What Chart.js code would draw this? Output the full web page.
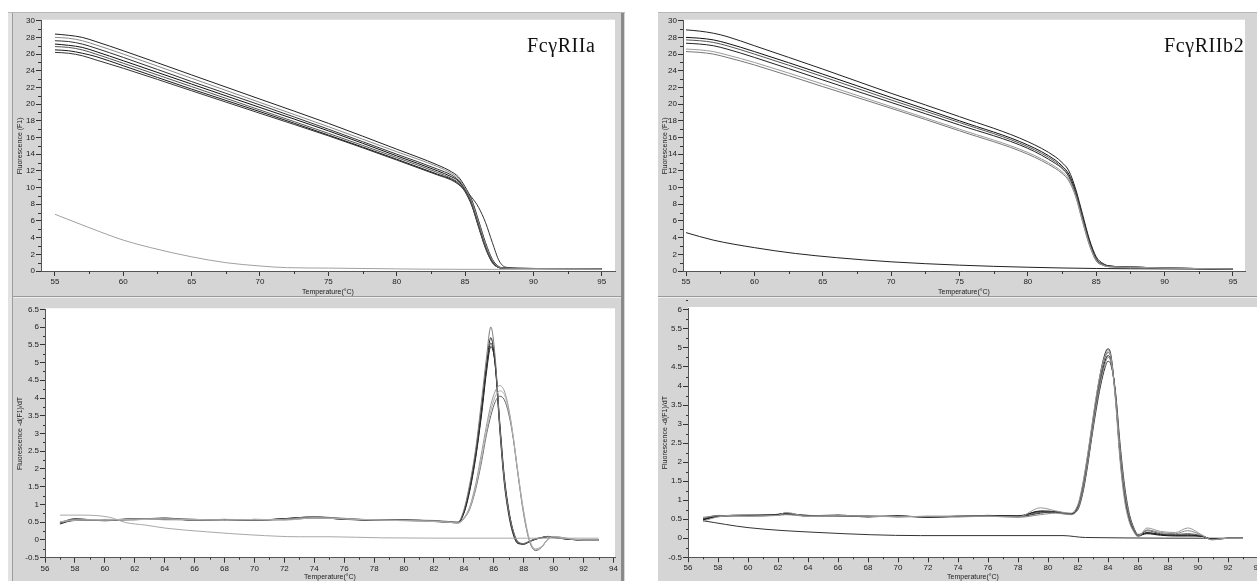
<!DOCTYPE html>
<html>
<head>
<meta charset="utf-8">
<title>Melting curves</title>
<script src="https://cdn.jsdelivr.net/npm/chart.js@4.4.1/dist/chart.umd.min.js"></script>
<style>
  html, body { margin: 0; padding: 0; background: #fff; }
  body { position: relative; width: 1257px; height: 581px; overflow: hidden; }
  .col { position: absolute; background: #d5d5d5; border-top: 1px solid #b8b8b8; box-sizing: border-box; }
  .line { position: absolute; }
  canvas { position: absolute; }
</style>
</head>
<body>
<!-- window frames -->
<div class="col" style="left:8px;top:12px;width:617px;height:569px"></div>
<div class="line" style="left:8px;top:13px;width:4px;height:568px;background:#e2e2e2"></div>
<div class="line" style="left:12px;top:13px;width:1px;height:568px;background:#9c9c9c"></div>
<div class="line" style="left:621px;top:13px;width:3px;height:568px;background:#8a8a8a"></div>
<div class="line" style="left:13px;top:296px;width:608px;height:1px;background:#9a9a9a"></div>
<div class="line" style="left:13px;top:297px;width:608px;height:1px;background:#efefef"></div>

<div class="col" style="left:658px;top:12px;width:599px;height:569px"></div>
<div class="line" style="left:658px;top:296px;width:599px;height:1px;background:#9a9a9a"></div>
<div class="line" style="left:658px;top:297px;width:599px;height:1px;background:#efefef"></div>

<canvas id="meltA" style="left:8px;top:12px" width="613" height="286"></canvas>
<canvas id="derivA" style="left:8px;top:298px" width="613" height="283"></canvas>
<canvas id="meltB" style="left:658px;top:12px" width="620" height="286"></canvas>
<canvas id="derivB" style="left:658px;top:298px" width="620" height="283"></canvas>

<script>
// ---- tick values ----
const meltXTicks = [55, 60, 65, 70, 75, 80, 85, 90, 95];
const meltXMinor = [57.5, 62.5, 67.5, 72.5, 77.5, 82.5, 87.5, 92.5];
const meltYTicks = [0, 2, 4, 6, 8, 10, 12, 14, 16, 18, 20, 22, 24, 26, 28, 30];
const meltYMinor = [1, 3, 5, 7, 9, 11, 13, 15, 17, 19, 21, 23, 25, 27, 29];
const derivXTicks = [56, 58, 60, 62, 64, 66, 68, 70, 72, 74, 76, 78, 80, 82, 84, 86, 88, 90, 92, 94];
const derivXMinor = [57, 59, 61, 63, 65, 67, 69, 71, 73, 75, 77, 79, 81, 83, 85, 87, 89, 91, 93];
const derivYTicksA = [-0.5, 0, 0.5, 1, 1.5, 2, 2.5, 3, 3.5, 4, 4.5, 5, 5.5, 6, 6.5];
const derivYTicksB = [-0.5, 0, 0.5, 1, 1.5, 2, 2.5, 3, 3.5, 4, 4.5, 5, 5.5, 6];
const derivYMinor = [-0.25, 0.25, 0.75, 1.25, 1.75, 2.25, 2.75, 3.25, 3.75, 4.25, 4.75, 5.25, 5.75, 6.25];

// ---- FcγRIIa melting curves, F1 vs temperature ----
const meltTempsA = [55, 56, 57, 58, 60, 65, 70, 75, 80, 83, 84, 84.5, 85, 85.5, 86, 86.5, 87, 87.5, 88, 89, 90, 95];
const meltA1 = [28.4, 28.25, 28.0, 27.5, 26.4, 23.5, 20.6, 17.7, 14.6, 12.7, 11.9, 11.3, 10.1, 8.5, 6.0, 3.4, 1.4, 0.5, 0.35, 0.3, 0.3, 0.25];
const meltA2 = [28.0, 27.9, 27.6, 27.1, 26.0, 23.1, 20.2, 17.3, 14.3, 12.5, 11.7, 11.1, 9.9, 8.3, 5.8, 3.2, 1.3, 0.45, 0.35, 0.3, 0.3, 0.25];
const meltA3 = [27.6, 27.5, 27.2, 26.7, 25.6, 22.7, 19.9, 17.0, 14.0, 12.2, 11.5, 10.9, 9.8, 8.2, 5.6, 3.0, 1.2, 0.45, 0.35, 0.3, 0.3, 0.25];
const meltA4 = [27.2, 27.05, 26.8, 26.3, 25.2, 22.4, 19.6, 16.8, 13.8, 12.0, 11.3, 10.8, 9.7, 8.0, 5.4, 2.9, 1.1, 0.4, 0.35, 0.3, 0.3, 0.25];
const meltA5 = [26.9, 26.8, 26.5, 26.0, 24.9, 22.1, 19.3, 16.5, 13.6, 11.8, 11.1, 10.6, 9.6, 7.9, 5.3, 2.8, 1.0, 0.4, 0.3, 0.3, 0.3, 0.25];
const meltA6 = [26.5, 26.4, 26.1, 25.7, 24.6, 21.8, 19.1, 16.3, 13.4, 11.6, 11.0, 10.5, 9.5, 7.8, 5.2, 2.7, 1.0, 0.4, 0.3, 0.3, 0.3, 0.25];
const meltA7 = [26.2, 26.1, 25.8, 25.3, 24.3, 21.6, 18.9, 16.2, 13.3, 11.5, 10.9, 10.4, 9.7, 8.8, 7.6, 5.8, 3.4, 1.2, 0.45, 0.35, 0.3, 0.25];
const blankTempsA = [55, 57.5, 60, 62, 65, 67.5, 70, 72, 75, 80, 85, 90, 95];
const blankMeltA = [6.8, 5.2, 3.7, 2.8, 1.7, 1.0, 0.6, 0.4, 0.35, 0.25, 0.2, 0.2, 0.2];

// ---- FcγRIIb2 melting curves ----
const meltTempsB = [55, 56, 57, 58, 60, 65, 70, 75, 80, 82, 82.5, 83, 83.5, 84, 84.5, 85, 85.5, 86, 88, 90, 95];
const meltB1 = [28.9, 28.75, 28.5, 28.1, 27.0, 24.2, 21.3, 18.5, 15.5, 13.7, 13.0, 12.0, 9.8, 6.8, 3.8, 1.7, 0.9, 0.6, 0.45, 0.35, 0.25];
const meltB2 = [28.0, 27.9, 27.7, 27.3, 26.3, 23.6, 20.8, 18.0, 15.1, 13.3, 12.6, 11.6, 9.5, 6.5, 3.6, 1.5, 0.8, 0.6, 0.45, 0.35, 0.25];
const meltB3 = [27.7, 27.6, 27.4, 27.0, 26.0, 23.3, 20.5, 17.8, 14.9, 13.1, 12.4, 11.4, 9.3, 6.3, 3.4, 1.4, 0.8, 0.55, 0.45, 0.35, 0.25];
const meltB4 = [27.3, 27.2, 27.0, 26.6, 25.6, 22.9, 20.2, 17.5, 14.7, 12.9, 12.3, 11.3, 9.2, 6.2, 3.3, 1.3, 0.7, 0.55, 0.45, 0.35, 0.25];
const meltB5 = [26.6, 26.5, 26.3, 25.9, 25.0, 22.4, 19.7, 17.0, 14.2, 12.5, 11.9, 11.0, 9.0, 6.0, 3.2, 1.3, 0.7, 0.5, 0.45, 0.35, 0.25];
const meltB6 = [26.3, 26.2, 26.0, 25.6, 24.7, 22.1, 19.5, 16.8, 14.0, 12.3, 11.7, 10.8, 8.9, 5.9, 3.1, 1.2, 0.7, 0.5, 0.4, 0.35, 0.25];
const blankTempsB = [55, 57, 60, 63, 66, 70, 75, 80, 85, 90, 95];
const blankMeltB = [4.6, 3.7, 2.8, 2.1, 1.6, 1.1, 0.7, 0.45, 0.3, 0.25, 0.2];

// ---- FcγRIIa derivative, -d(F1)/dT ----
const derivTempsA = [57, 58, 60, 62, 64, 66, 68, 70, 72, 74, 76, 78, 80, 82, 83, 83.6, 84, 84.4, 84.8, 85.2, 85.5, 85.8, 86.1, 86.4, 86.7, 87, 87.3, 87.6, 88, 88.4, 88.8, 89.2, 89.6, 90, 91, 92, 93];
const derivA1 = [0.5, 0.58, 0.55, 0.6, 0.6, 0.56, 0.58, 0.55, 0.58, 0.66, 0.6, 0.57, 0.56, 0.55, 0.52, 0.5, 0.85, 1.6, 2.6, 4.0, 5.1, 6.0, 5.1, 3.2, 1.7, 0.8, 0.25, -0.05, -0.1, -0.04, 0.03, 0.07, 0.1, 0.08, 0.03, 0.0, 0.0];
const derivA2 = [0.45, 0.56, 0.57, 0.58, 0.62, 0.55, 0.57, 0.56, 0.6, 0.64, 0.58, 0.56, 0.57, 0.53, 0.5, 0.48, 0.8, 1.5, 2.5, 3.8, 4.9, 5.7, 4.9, 3.1, 1.6, 0.7, 0.15, -0.1, -0.12, -0.05, 0.02, 0.06, 0.09, 0.07, 0.02, 0.0, 0.0];
const derivA3 = [0.48, 0.6, 0.54, 0.6, 0.58, 0.57, 0.55, 0.58, 0.57, 0.62, 0.6, 0.55, 0.55, 0.52, 0.5, 0.5, 0.78, 1.45, 2.4, 3.7, 4.8, 5.55, 4.9, 3.2, 1.7, 0.8, 0.2, -0.08, -0.1, -0.03, 0.03, 0.06, 0.09, 0.07, 0.02, 0.0, 0.0];
const derivA4 = [0.5, 0.55, 0.56, 0.57, 0.6, 0.58, 0.56, 0.55, 0.6, 0.65, 0.58, 0.57, 0.55, 0.54, 0.5, 0.49, 0.75, 1.4, 2.35, 3.6, 4.7, 5.45, 4.95, 3.3, 1.8, 0.85, 0.25, -0.05, -0.11, -0.04, 0.03, 0.07, 0.1, 0.08, 0.02, 0.0, 0.0];
const derivA5 = [0.5, 0.57, 0.55, 0.59, 0.6, 0.56, 0.58, 0.57, 0.58, 0.63, 0.6, 0.56, 0.55, 0.53, 0.5, 0.48, 0.62, 0.95, 1.6, 2.5, 3.2, 3.8, 4.2, 4.35, 4.2, 3.7, 2.9, 1.9, 0.7, -0.05, -0.28, -0.2, 0.02, 0.1, 0.04, 0.0, 0.0];
const derivA6 = [0.52, 0.55, 0.58, 0.57, 0.59, 0.58, 0.55, 0.58, 0.56, 0.62, 0.59, 0.57, 0.54, 0.52, 0.5, 0.47, 0.6, 0.9, 1.5, 2.35, 3.05, 3.65, 4.05, 4.2, 4.1, 3.65, 2.9, 1.95, 0.8, 0.0, -0.25, -0.18, 0.02, 0.09, 0.04, 0.0, 0.0];
const derivA7 = [0.47, 0.58, 0.56, 0.6, 0.57, 0.57, 0.57, 0.56, 0.59, 0.63, 0.61, 0.56, 0.56, 0.53, 0.51, 0.49, 0.6, 0.88, 1.45, 2.25, 2.95, 3.5, 3.9, 4.05, 3.95, 3.55, 2.85, 1.9, 0.75, -0.05, -0.3, -0.2, 0.01, 0.09, 0.03, 0.0, 0.0];
const blankDerivTempsA = [57, 58.4, 60.3, 61.4, 62.7, 64.1, 66.8, 69.9, 73, 75, 78.5, 85, 93];
const blankDerivA = [0.7, 0.7, 0.64, 0.49, 0.42, 0.33, 0.23, 0.14, 0.09, 0.09, 0.06, 0.05, 0.05];

// ---- FcγRIIb2 derivative ----
const derivTempsB = [57, 58, 60, 62, 62.5, 64, 66, 68, 70, 72, 74, 76, 78, 79.5, 80.5, 81.5, 82, 82.3, 82.6, 82.9, 83.2, 83.5, 83.8, 84, 84.2, 84.5, 84.8, 85.1, 85.4, 85.7, 86, 86.6, 87.5, 88.5, 89.3, 90.3, 90.9, 92, 93];
const derivB1 = [0.5, 0.58, 0.6, 0.62, 0.65, 0.58, 0.6, 0.57, 0.58, 0.56, 0.58, 0.6, 0.58, 0.72, 0.7, 0.64, 0.85, 1.35, 2.05, 2.85, 3.65, 4.35, 4.85, 4.98, 4.8, 3.7, 2.15, 1.1, 0.5, 0.2, 0.05, 0.15, 0.1, 0.08, 0.08, 0.05, -0.03, 0.0, 0.0];
const derivB2 = [0.45, 0.56, 0.62, 0.6, 0.68, 0.57, 0.59, 0.58, 0.57, 0.57, 0.59, 0.58, 0.56, 0.8, 0.72, 0.66, 0.9, 1.4, 2.1, 2.9, 3.7, 4.35, 4.8, 4.93, 4.75, 3.6, 2.05, 1.0, 0.45, 0.18, 0.04, 0.27, 0.18, 0.15, 0.27, 0.08, -0.04, 0.0, 0.0];
const derivB3 = [0.52, 0.6, 0.59, 0.61, 0.64, 0.6, 0.58, 0.59, 0.56, 0.58, 0.57, 0.59, 0.57, 0.68, 0.69, 0.63, 0.82, 1.3, 1.95, 2.75, 3.55, 4.25, 4.75, 4.88, 4.72, 3.7, 2.2, 1.15, 0.55, 0.22, 0.06, 0.2, 0.12, 0.1, 0.12, 0.06, -0.03, 0.0, 0.0];
const derivB4 = [0.48, 0.57, 0.6, 0.63, 0.66, 0.59, 0.61, 0.56, 0.59, 0.55, 0.58, 0.6, 0.59, 0.7, 0.68, 0.65, 0.8, 1.25, 1.9, 2.7, 3.5, 4.15, 4.65, 4.8, 4.65, 3.75, 2.3, 1.2, 0.58, 0.25, 0.07, 0.12, 0.08, 0.06, 0.06, 0.05, -0.02, 0.0, 0.0];
const derivB5 = [0.55, 0.59, 0.58, 0.6, 0.62, 0.58, 0.6, 0.58, 0.57, 0.57, 0.56, 0.58, 0.55, 0.62, 0.66, 0.62, 0.78, 1.2, 1.85, 2.65, 3.45, 4.1, 4.58, 4.75, 4.62, 3.8, 2.4, 1.3, 0.63, 0.28, 0.08, 0.22, 0.15, 0.12, 0.2, 0.07, -0.04, 0.0, 0.0];
const derivB6 = [0.5, 0.58, 0.61, 0.62, 0.63, 0.6, 0.59, 0.57, 0.58, 0.56, 0.57, 0.59, 0.57, 0.66, 0.7, 0.64, 0.76, 1.15, 1.8, 2.6, 3.35, 4.0, 4.48, 4.65, 4.55, 3.85, 2.5, 1.4, 0.68, 0.3, 0.1, 0.14, 0.1, 0.08, 0.09, 0.05, -0.02, 0.0, 0.0];
const blankDerivTempsB = [57, 60, 64.8, 71.5, 75, 81, 82.5, 93];
const blankDerivB = [0.46, 0.28, 0.15, 0.07, 0.07, 0.07, 0.02, 0.0];

const tickFont = { family: 'Liberation Sans, Arial, sans-serif', size: 8 };
const titleFont = { family: 'Liberation Sans, Arial, sans-serif', size: 7 };

function curve(temps, vals, color) {
  return {
    data: temps.map((t, i) => ({ x: t, y: vals[i] })),
    borderColor: color,
    borderWidth: 1,
    pointRadius: 0,
    cubicInterpolationMode: 'monotone',
    fill: false
  };
}

// white plot area, minor ticks and the gene label
const panelPlugin = {
  id: 'panel',
  beforeDraw(chart) {
    const { ctx, chartArea: a } = chart;
    ctx.save();
    ctx.fillStyle = '#ffffff';
    ctx.fillRect(a.left, a.top - 1, a.right - a.left, a.bottom - a.top + 1);
    ctx.restore();
  },
  afterDraw(chart, args, opts) {
    const { ctx, chartArea: a, scales } = chart;
    ctx.save();
    ctx.strokeStyle = '#333';
    ctx.lineWidth = 1;
    ctx.beginPath();
    (opts.xMinor || []).forEach(v => {
      const p = Math.round(scales.x.getPixelForValue(v)) + 0.5;
      ctx.moveTo(p, a.bottom);
      ctx.lineTo(p, a.bottom + opts.minorLen);
    });
    (opts.yMinor || []).forEach(v => {
      const p = Math.round(scales.y.getPixelForValue(v)) + 0.5;
      ctx.moveTo(a.left - opts.minorLen, p);
      ctx.lineTo(a.left, p);
    });
    ctx.stroke();
    if (opts.label) {
      ctx.fillStyle = '#111';
      ctx.font = '20px "Liberation Serif", "DejaVu Serif", serif';
      ctx.letterSpacing = '0.6px';
      ctx.textBaseline = 'alphabetic';
      ctx.textAlign = 'left';
      ctx.fillText(opts.label, opts.labelX, opts.labelY);
    }
    ctx.restore();
  }
};

function makePanel(id, p) {
  return new Chart(document.getElementById(id), {
    type: 'line',
    data: { datasets: p.datasets },
    plugins: [panelPlugin],
    options: {
      responsive: false,
      animation: false,
      events: [],
      layout: { padding: p.padding },
      plugins: {
        legend: { display: false },
        tooltip: { enabled: false },
        panel: p.panel
      },
      scales: {
        x: {
          type: 'linear',
          min: p.xMin, max: p.xMax,
          afterBuildTicks: s => { s.ticks = p.xTicks.map(v => ({ value: v })); },
          afterFit: s => { s.height = p.xHeight; },
          grid: { drawOnChartArea: false, drawTicks: true, tickLength: 5, color: '#333' },
          border: { display: true, color: '#555' },
          ticks: { font: tickFont, color: '#222', padding: 1, maxRotation: 0, autoSkip: false, callback: v => String(v) },
          title: { display: true, text: 'Temperature(°C)', font: titleFont, color: '#222', padding: { top: 0, bottom: p.xTitlePad } }
        },
        y: {
          type: 'linear',
          min: p.yMin, max: p.yMax,
          afterBuildTicks: s => { s.ticks = p.yTicks.map(v => ({ value: v })); },
          afterFit: s => { s.width = p.yWidth; },
          grid: { drawOnChartArea: false, drawTicks: true, tickLength: 5, color: '#333' },
          border: { display: true, color: '#555' },
          ticks: { font: tickFont, color: '#222', padding: 1, autoSkip: false, callback: v => String(v) },
          title: { display: true, text: p.yTitle, font: titleFont, color: '#222', padding: { top: p.yTitlePad, bottom: 0 } }
        }
      }
    }
  });
}

makePanel('meltA', {
  xMin: 53.98, xMax: 95.97, xTicks: meltXTicks,
  yMin: 0, yMax: 30, yTicks: meltYTicks,
  yTitle: 'Fluorescence (F1)',
  padding: { left: 0, top: 8.7, right: 6, bottom: 0 },
  yWidth: 33, xHeight: 27, xTitlePad: 2, yTitlePad: 8,
  panel: { xMinor: meltXMinor, yMinor: meltYMinor, minorLen: 3, label: 'FcγRIIa', labelX: 519, labelY: 40 },
  datasets: [
    curve(blankTempsA, blankMeltA, '#a0a0a0'),
    curve(meltTempsA, meltA2, '#8a8a8a'),
    curve(meltTempsA, meltA5, '#555555'),
    curve(meltTempsA, meltA1, '#222222'),
    curve(meltTempsA, meltA3, '#333333'),
    curve(meltTempsA, meltA4, '#111111'),
    curve(meltTempsA, meltA6, '#1a1a1a'),
    curve(meltTempsA, meltA7, '#333333')
  ]
});

makePanel('derivA', {
  xMin: 56, xMax: 94.1, xTicks: derivXTicks,
  yMin: -0.5, yMax: 6.5, yTicks: derivYTicksA,
  yTitle: 'Fluorescence -d(F1)/dT',
  padding: { left: 0, top: 11.3, right: 6, bottom: 0 },
  yWidth: 37, xHeight: 23.3, xTitlePad: 0, yTitlePad: 8,
  panel: { xMinor: derivXMinor, yMinor: derivYMinor, minorLen: 2 },
  datasets: [
    curve(blankDerivTempsA, blankDerivA, '#a8a8a8'),
    curve(derivTempsA, derivA6, '#b0b0b0'),
    curve(derivTempsA, derivA5, '#999999'),
    curve(derivTempsA, derivA7, '#666666'),
    curve(derivTempsA, derivA1, '#7a7a7a'),
    curve(derivTempsA, derivA3, '#333333'),
    curve(derivTempsA, derivA4, '#111111'),
    curve(derivTempsA, derivA2, '#222222')
  ]
});

makePanel('meltB', {
  xMin: 54.78, xMax: 95.88, xTicks: meltXTicks,
  yMin: 0, yMax: 30, yTicks: meltYTicks,
  yTitle: 'Fluorescence (F1)',
  padding: { left: 0, top: 8.7, right: 33, bottom: 0 },
  yWidth: 25, xHeight: 27, xTitlePad: 2, yTitlePad: 3,
  panel: { xMinor: meltXMinor, yMinor: meltYMinor, minorLen: 3, label: 'FcγRIIb2', labelX: 506, labelY: 40 },
  datasets: [
    curve(meltTempsB, meltB5, '#9a9a9a'),
    curve(meltTempsB, meltB6, '#777777'),
    curve(meltTempsB, meltB3, '#555555'),
    curve(meltTempsB, meltB1, '#222222'),
    curve(meltTempsB, meltB2, '#111111'),
    curve(meltTempsB, meltB4, '#222222'),
    curve(blankTempsB, blankMeltB, '#222222')
  ]
});

makePanel('derivB', {
  xMin: 56, xMax: 94, xTicks: derivXTicks,
  yMin: -0.5, yMax: 6.05, yTicks: derivYTicksB,
  yTitle: 'Fluorescence -d(F1)/dT',
  padding: { left: 0, top: 10, right: 20, bottom: 0 },
  yWidth: 30, xHeight: 23.7, xTitlePad: 0, yTitlePad: 3,
  panel: { xMinor: derivXMinor, yMinor: derivYMinor, minorLen: 2 },
  datasets: [
    curve(derivTempsB, derivB2, '#999999'),
    curve(derivTempsB, derivB5, '#888888'),
    curve(derivTempsB, derivB3, '#555555'),
    curve(derivTempsB, derivB1, '#222222'),
    curve(derivTempsB, derivB4, '#111111'),
    curve(derivTempsB, derivB6, '#333333'),
    curve(blankDerivTempsB, blankDerivB, '#333333')
  ]
});
</script>
</body>
</html>
